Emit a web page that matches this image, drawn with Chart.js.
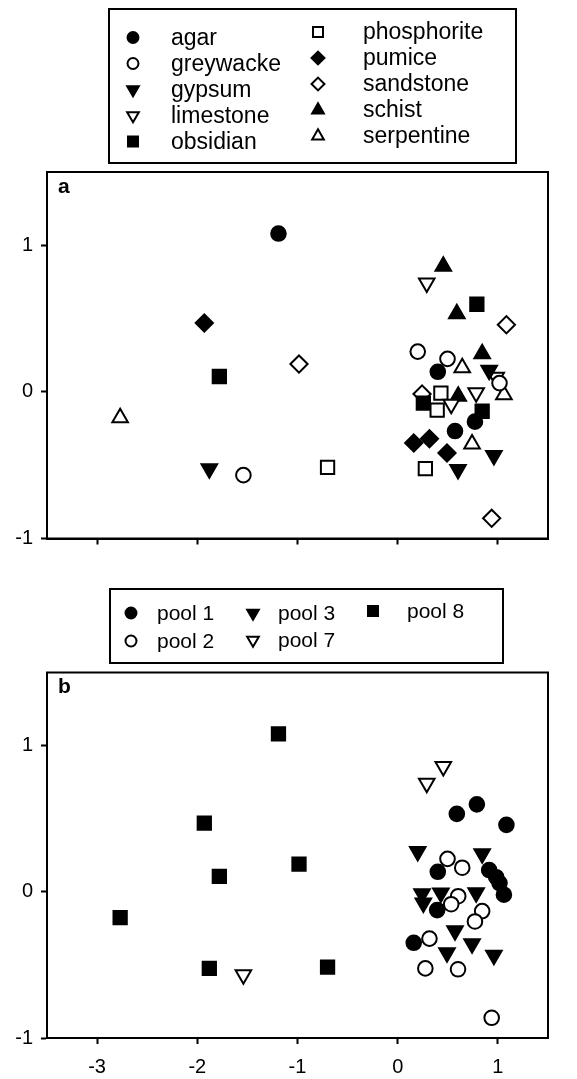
<!DOCTYPE html>
<html>
<head>
<meta charset="utf-8">
<script src="https://cdn.jsdelivr.net/npm/chart.js@4.4.1/dist/chart.umd.min.js"></script>
<style>
  html, body { margin: 0; padding: 0; background: #fff; }
  canvas { display: block; }
</style>
</head>
<body>
<canvas id="chartA" width="577" height="560"></canvas>
<canvas id="chartB" width="577" height="519"></canvas>
<script>
// groups
const rockTypes = ["agar", "greywacke", "gypsum", "limestone", "obsidian",
                   "phosphorite", "pumice", "sandstone", "schist", "serpentine"];
const pools = ["pool 1", "pool 2", "pool 3", "pool 7", "pool 8"];

// sample scores (same 40 samples in both panels)
const scoreX = [-1.19, -1.93, -0.985, -1.78, -2.77, -1.88, -1.54, -0.70,
                0.455, 0.29, 0.79, 0.59, 1.085, 0.20, 0.843, 0.497, 0.40, 0.644,
                0.913, 0.983, 1.016, 0.243, 0.431, 0.604, 0.783, 1.06, 0.256, 0.394,
                0.534, 0.843, 0.771, 0.572, 0.16, 0.317, 0.492, 0.742, 0.96, 0.276,
                0.602, 0.938];
const scoreY = [1.08, 0.47, 0.19, 0.105, -0.177, -0.524, -0.568, -0.515,
                0.857, 0.742, 0.598, 0.533, 0.458, 0.275, 0.26, 0.225, 0.137, 0.165,
                0.148, 0.10, 0.06, -0.014, -0.008, -0.03, -0.006, -0.02, -0.076, -0.125,
                -0.085, -0.132, -0.203, -0.267, -0.349, -0.32, -0.417, -0.355, -0.434, -0.524,
                -0.53, -0.862];
const sampleRock = ["agar", "pumice", "sandstone", "obsidian", "serpentine", "gypsum", "greywacke", "phosphorite",
                    "schist", "limestone", "obsidian", "schist", "sandstone", "greywacke", "schist", "greywacke", "agar", "serpentine",
                    "gypsum", "limestone", "greywacke", "sandstone", "phosphorite", "schist", "limestone", "serpentine", "obsidian", "phosphorite",
                    "limestone", "obsidian", "agar", "agar", "pumice", "pumice", "pumice", "serpentine", "gypsum", "phosphorite",
                    "gypsum", "sandstone"];
const samplePool = ["pool 8", "pool 8", "pool 8", "pool 8", "pool 8", "pool 8", "pool 7", "pool 8",
                    "pool 7", "pool 7", "pool 1", "pool 1", "pool 1", "pool 3", "pool 3", "pool 2", "pool 1", "pool 2",
                    "pool 1", "pool 1", "pool 1", "pool 3", "pool 3", "pool 2", "pool 3", "pool 1", "pool 3", "pool 1",
                    "pool 2", "pool 2", "pool 2", "pool 3", "pool 1", "pool 2", "pool 3", "pool 3", "pool 3", "pool 2",
                    "pool 2", "pool 2"];

const xTicks = [-3, -2, -1, 0, 1];
const yTicks = [-1, 0, 1];

const FONT = "'Liberation Sans', Arial, sans-serif";

// marker look per group
const markers = {
  "agar":        { style: "circle",   fill: true },
  "greywacke":   { style: "circle",   fill: false },
  "gypsum":      { style: "triangle", fill: true,  rot: 180 },
  "limestone":   { style: "triangle", fill: false, rot: 180 },
  "obsidian":    { style: "rect",     fill: true },
  "phosphorite": { style: "rect",     fill: false },
  "pumice":      { style: "rectRot",  fill: true },
  "sandstone":   { style: "rectRot",  fill: false },
  "schist":      { style: "triangle", fill: true },
  "serpentine":  { style: "triangle", fill: false },
  "pool 1":      { style: "circle",   fill: true },
  "pool 2":      { style: "circle",   fill: false },
  "pool 3":      { style: "triangle", fill: true,  rot: 180 },
  "pool 7":      { style: "triangle", fill: false, rot: 180 },
  "pool 8":      { style: "rect",     fill: true }
};
const radius = { circle: 7.3, rect: 9.4, rectRot: 8.6, triangle: 9 };

function makeDatasets(groups, sampleGroup) {
  return groups.map((g) => {
    const m = markers[g];
    const pts = [];
    sampleGroup.forEach((s, i) => {
      if (s === g) pts.push({ x: scoreX[i], y: scoreY[i] });
    });
    return {
      label: g,
      data: pts,
      showLine: false,
      pointStyle: m.style,
      pointRotation: m.rot || 0,
      pointRadius: radius[m.style],
      pointHoverRadius: radius[m.style],
      pointBorderWidth: 2,
      pointBackgroundColor: m.fill ? "#000" : "#fff",
      pointBorderColor: "#000"
    };
  });
}

// boxed legend + frame + panel letter
const boxLegend = {
  id: "boxLegend",
  afterDraw(chart, args, opts) {
    const ctx = chart.ctx;
    const a = chart.chartArea;
    ctx.save();
    // frame round the plot
    ctx.strokeStyle = "#000";
    ctx.lineWidth = 2;
    ctx.strokeRect(a.left, a.top, a.right - a.left, a.bottom - a.top);

    // panel letter
    ctx.fillStyle = "#000";
    ctx.font = "bold 21px " + FONT;
    ctx.textBaseline = "middle";
    ctx.textAlign = "left";
    ctx.fillText(opts.tag, a.left + 11, a.top + 15);

    // legend box
    const b = opts.box;
    ctx.lineWidth = 2;
    ctx.strokeRect(b[0], b[1], b[2] - b[0], b[3] - b[1]);

    ctx.font = opts.fontSize + "px " + FONT;
    opts.items.forEach((it) => {
      const ds = chart.data.datasets[it.ds];
      ctx.fillStyle = ds.pointBackgroundColor;
      ctx.strokeStyle = "#000";
      ctx.lineWidth = 2;
      Chart.helpers.drawPoint(ctx, {
        pointStyle: ds.pointStyle,
        rotation: ds.pointRotation,
        radius: ds.pointRadius * 0.75,
        borderWidth: 2
      }, it.sx, it.y);
      ctx.fillStyle = "#000";
      ctx.fillText(ds.label, it.tx, it.y + 1);
    });
    ctx.restore();
  }
};

function makeScales(showXLabels, xHeight) {
  return {
    x: {
      type: "linear",
      min: -3.5,
      max: 1.5,
      afterBuildTicks: (s) => { s.ticks = xTicks.map((v) => ({ value: v })); },
      afterFit: (s) => { s.height = xHeight; },
      grid: { drawOnChartArea: false, drawTicks: true, tickLength: 6, tickWidth: 2, tickColor: "#000" },
      border: { display: true, color: "#000", width: 2 },
      ticks: { display: showXLabels, color: "#000", padding: 11, font: { family: FONT, size: 20 } }
    },
    y: {
      type: "linear",
      min: -1,
      max: 1.5,
      afterBuildTicks: (s) => { s.ticks = yTicks.map((v) => ({ value: v })); },
      afterFit: (s) => { s.width = 47; },
      grid: { drawOnChartArea: false, drawTicks: true, tickLength: 6, tickWidth: 2, tickColor: "#000" },
      border: { display: true, color: "#000", width: 2 },
      ticks: { color: "#000", padding: 8, font: { family: FONT, size: 20 } }
    }
  };
}

function makeChart(id, datasets, legendOpts, padTop, showXLabels, xHeight) {
  return new Chart(document.getElementById(id), {
    type: "scatter",
    data: { datasets: datasets },
    options: {
      responsive: false,
      animation: false,
      devicePixelRatio: 1,
      layout: { padding: { top: padTop, right: 29, bottom: 0, left: 0 } },
      scales: makeScales(showXLabels, xHeight),
      plugins: {
        legend: { display: false },
        tooltip: { enabled: false },
        boxLegend: legendOpts
      }
    },
    plugins: [boxLegend]
  });
}

// panel a: rock types
const legendA = {
  tag: "a",
  fontSize: 23,
  box: [109, 9, 516, 163],
  items: [
    { ds: 0, sx: 133, tx: 171, y: 37.5 },
    { ds: 1, sx: 133, tx: 171, y: 63.5 },
    { ds: 2, sx: 133, tx: 171, y: 89.5 },
    { ds: 3, sx: 133, tx: 171, y: 115.5 },
    { ds: 4, sx: 133, tx: 171, y: 141.5 },
    { ds: 5, sx: 318, tx: 363, y: 32 },
    { ds: 6, sx: 318, tx: 363, y: 58 },
    { ds: 7, sx: 318, tx: 363, y: 84 },
    { ds: 8, sx: 318, tx: 363, y: 110 },
    { ds: 9, sx: 318, tx: 363, y: 136 }
  ]
};
makeChart("chartA", makeDatasets(rockTypes, sampleRock), legendA, 172, false, 21.5);

// panel b: pools
const legendB = {
  tag: "b",
  fontSize: 21,
  box: [110, 29, 503, 103],
  items: [
    { ds: 0, sx: 131, tx: 157, y: 53 },
    { ds: 1, sx: 131, tx: 157, y: 81 },
    { ds: 2, sx: 253, tx: 278, y: 53 },
    { ds: 3, sx: 253, tx: 278, y: 80 },
    { ds: 4, sx: 373, tx: 407, y: 51 }
  ]
};
makeChart("chartB", makeDatasets(pools, samplePool), legendB, 112.5, true, 41);
</script>
</body>
</html>
